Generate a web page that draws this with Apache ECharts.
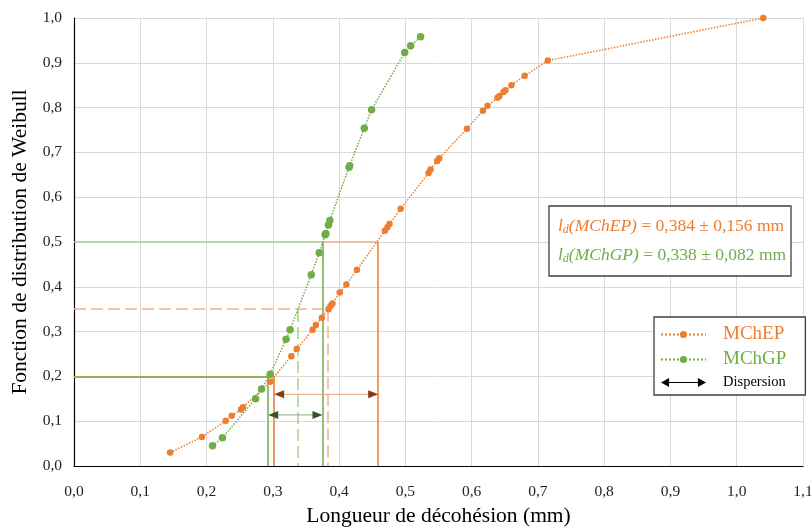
<!DOCTYPE html>
<html>
<head>
<meta charset="utf-8">
<script src="https://cdn.jsdelivr.net/npm/echarts@6/dist/echarts.min.js"></script>
<style>html,body{margin:0;padding:0;background:#fff}#c{width:811px;height:528px}</style>
</head>
<body>
<div id="c"></div>
<script>
// ---- data ----
const mchepX = [0.145,0.193,0.229,0.238,0.252,0.255,0.296,0.328,0.336,0.360,0.365,0.374,0.384,0.387,0.390,0.401,0.411,0.427,0.469,0.473,0.476,0.493,0.535,0.538,0.548,0.551,0.593,0.617,0.624,0.639,0.642,0.648,0.651,0.660,0.680,0.715,1.040];
const mchepY = [0.030,0.065,0.101,0.112,0.126,0.131,0.188,0.245,0.261,0.304,0.315,0.331,0.350,0.357,0.363,0.387,0.405,0.438,0.525,0.533,0.540,0.574,0.654,0.662,0.681,0.687,0.753,0.793,0.804,0.822,0.826,0.835,0.839,0.850,0.871,0.905,1.000];
const mchgpX = [0.209,0.224,0.274,0.283,0.296,0.320,0.326,0.358,0.370,0.379,0.380,0.384,0.386,0.415,0.416,0.438,0.449,0.499,0.508,0.523];
const mchgpY = [0.045,0.063,0.150,0.172,0.205,0.283,0.304,0.427,0.476,0.516,0.519,0.538,0.548,0.667,0.670,0.754,0.795,0.923,0.938,0.958];
// guide segments: [x1, y1, x2, y2]
const guideOrangeSolid = [[0.302,0.2,0.302,0],[0.459,0.5,0.459,0]];
const guideOrangeLight = [[0.375,0.5,0.459,0.5],[0,0.2,0.302,0.2]];
const guideOrangeDashed = [[0,0.35,0.383,0.35],[0.383,0.35,0.383,0]];
const guideGreenSolid = [[0.293,0.2,0.293,0],[0.375,0.5,0.375,0],[0,0.2,0.293,0.2]];
const guideGreenLight = [[0,0.5,0.375,0.5]];
const guideGreenDashed = [[0.337,0.348,0.337,0]];
// dispersion arrows: [xStart, xEnd, y]
const arrowOrange = [0.302,0.459,0.160];
const arrowGreen = [0.293,0.375,0.114];
const xTicks = {min:0, max:1.1, interval:0.1};
const yTicks = {min:0, max:1.0, interval:0.1};

const ORANGE = '#ED7D31', GREEN = '#70AD47';
const FONT = 'Liberation Serif';
const fmt = v => v.toFixed(1).replace('.', ',');
const pairs = (xs, ys) => xs.map((x, i) => [x, ys[i]]);
const segs = arr => arr.map(s => ({coords: [[s[0], s[1]], [s[2], s[3]]]}));

function guide(data, color, type, width) {
  return {type:'lines', coordinateSystem:'cartesian2d', silent:true, z:1,
    data: segs(data), lineStyle:{color:color, width:width||1.5, type:type||'solid', opacity:1}};
}

function arrowSeries(a, lineColor, headColor) {
  return {
    type:'custom', name:'Dispersion', silent:true, z:3,
    data:[a],
    renderItem: function(params, api) {
      const p1 = api.coord([api.value(0), api.value(2)]);
      const p2 = api.coord([api.value(1), api.value(2)]);
      const L = 10, H = 4;
      return {type:'group', children:[
        {type:'line', shape:{x1:p1[0]+L-2, y1:p1[1], x2:p2[0]-L+2, y2:p2[1]}, style:{stroke:lineColor, lineWidth:1}},
        {type:'polygon', shape:{points:[[p1[0],p1[1]],[p1[0]+L,p1[1]-H],[p1[0]+L,p1[1]+H]]}, style:{fill:headColor}},
        {type:'polygon', shape:{points:[[p2[0],p2[1]],[p2[0]-L,p2[1]-H],[p2[0]-L,p2[1]+H]]}, style:{fill:headColor}}
      ]};
    },
    encode:{x:[0,1], y:2}
  };
}

const chart = echarts.init(document.getElementById('c'));
chart.setOption({
  animation:false,
  grid:{left:74, right:8, top:18, bottom:62, outerBoundsMode:'none', containLabel:false},
  xAxis:{type:'value', min:xTicks.min, max:xTicks.max, interval:xTicks.interval,
    name:'Longueur de décohésion (mm)', nameLocation:'middle', nameGap:39,
    nameTextStyle:{fontFamily:FONT, fontSize:21.5, color:'#000'},
    axisLine:{onZero:false, lineStyle:{color:'#000', width:1.2}},
    axisTick:{show:false},
    axisLabel:{formatter:fmt, fontFamily:FONT, fontSize:15.5, color:'#222', margin:18},
    splitLine:{show:true, lineStyle:{color:'#d9d9d9', width:1}}},
  yAxis:{type:'value', min:yTicks.min, max:yTicks.max, interval:yTicks.interval,
    name:'Fonction de distribution de Weibull', nameLocation:'middle', nameGap:41,
    nameTextStyle:{fontFamily:FONT, fontSize:21.5, color:'#000'},
    axisLine:{show:true, onZero:false, lineStyle:{color:'#000', width:1.2}},
    axisTick:{show:false},
    axisLabel:{formatter:fmt, fontFamily:FONT, fontSize:15.5, color:'#222', margin:12},
    splitLine:{show:true, lineStyle:{color:'#d9d9d9', width:1}}},
  legend:{
    orient:'vertical', left:654, top:317,
    backgroundColor:'#fff',
    borderColor:'#404040', borderWidth:1.3, padding:[8,19,5,6],
    itemWidth:45, itemHeight:9, itemGap:6,
    textStyle:{fontFamily:FONT, fontSize:19, padding:[0,0,0,12]},
    data:[
      {name:'MChEP', textStyle:{color:ORANGE}},
      {name:'MChGP', textStyle:{color:GREEN}},
      {name:'Dispersion', icon:'path://M0,5 L9,0 L9,4.4 L41,4.4 L41,0 L50,5 L41,10 L41,5.6 L9,5.6 L9,10 Z', itemStyle:{color:'#000'}, textStyle:{color:'#000', fontSize:14.5}}
    ]
  },
  graphic:[
    {type:'rect', shape:{x:549, y:206, width:242, height:70}, style:{fill:'#fff', stroke:'#404040', lineWidth:1.3}, z:10},
    {type:'text', x:558, y:226, z:11, style:{
      text:'{i|l}{s|d}{i|(MChEP)}{n| = 0,384 ± 0,156 mm}', fill:ORANGE, verticalAlign:'middle',
      rich:{i:{fontFamily:FONT, fontStyle:'italic', fontSize:17.5, fill:ORANGE}, s:{fontFamily:FONT, fontStyle:'italic', fontSize:12, fill:ORANGE, verticalAlign:'bottom', padding:[7,0,0,0]}, n:{fontFamily:FONT, fontSize:17.5, fill:ORANGE}}}},
    {type:'text', x:558, y:255, z:11, style:{
      text:'{i|l}{s|d}{i|(MChGP)}{n| = 0,338 ± 0,082 mm}', fill:GREEN, verticalAlign:'middle',
      rich:{i:{fontFamily:FONT, fontStyle:'italic', fontSize:17.5, fill:GREEN}, s:{fontFamily:FONT, fontStyle:'italic', fontSize:12, fill:GREEN, verticalAlign:'bottom', padding:[7,0,0,0]}, n:{fontFamily:FONT, fontSize:17.5, fill:GREEN}}}}
  ],
  series:[
    guide(guideOrangeLight, '#F4B183'),
    guide(guideOrangeSolid, ORANGE),
    guide(guideOrangeDashed, '#F4B183', [12,5]),
    guide(guideGreenLight, '#A9D18E'),
    guide(guideGreenSolid, GREEN),
    guide(guideGreenDashed, '#A9D18E', [12,5]),
    arrowSeries(arrowOrange, '#E6A580', '#843C0C'),
    arrowSeries(arrowGreen, '#8FA882', '#375623'),
    {type:'line', name:'MChEP', data:pairs(mchepX, mchepY), z:5,
      symbol:'circle', symbolSize:6.5, showSymbol:true,
      itemStyle:{color:ORANGE}, lineStyle:{color:ORANGE, width:1.5, type:'dotted'}},
    {type:'line', name:'MChGP', data:pairs(mchgpX, mchgpY), z:5,
      symbol:'circle', symbolSize:7.5, showSymbol:true,
      itemStyle:{color:GREEN}, lineStyle:{color:GREEN, width:1.5, type:'dotted'}}
  ]
});
</script>
</body>
</html>
